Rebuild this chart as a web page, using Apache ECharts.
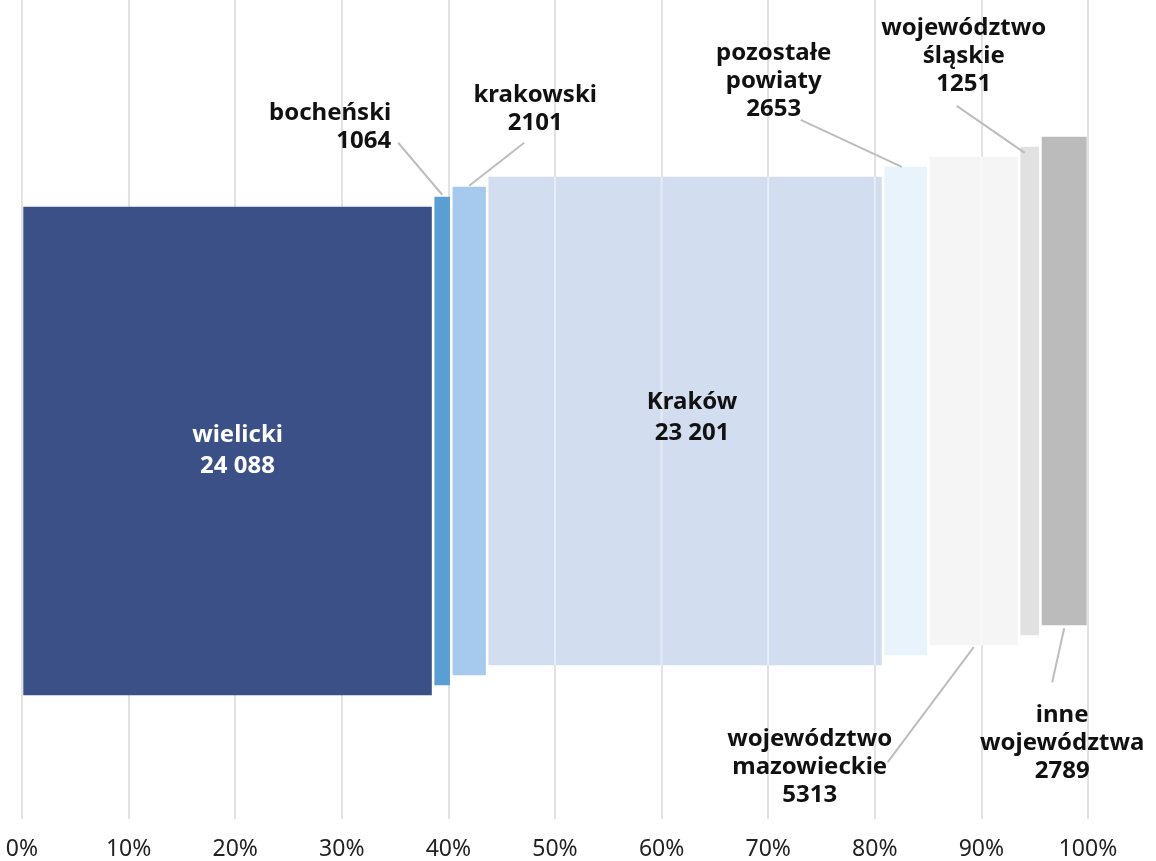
<!DOCTYPE html>
<html>
<head>
<meta charset="utf-8">
<script src="https://cdn.jsdelivr.net/npm/echarts@6/dist/echarts.min.js"></script>
<style>
  html, body { margin: 0; padding: 0; background: #ffffff; }
  #chart { width: 1156px; height: 861px; }
</style>
</head>
<body>
<div id="chart"></div>
<script>
// ---------------- DATA ----------------
const categories = ['wielicki', 'bocheński', 'krakowski', 'Kraków', 'pozostałe powiaty',
  'województwo mazowieckie', 'województwo śląskie', 'inne województwa'];
const labelNames = [['wielicki'], ['bocheński'], ['krakowski'], ['Kraków'], ['pozostałe', 'powiaty'],
  ['województwo', 'mazowieckie'], ['województwo', 'śląskie'], ['inne', 'województwa']];
const values = [24088, 1064, 2101, 23201, 2653, 5313, 1251, 2789];
const valueLabels = ['24 088', '1064', '2101', '23 201', '2653', '5313', '1251', '2789'];
const tickValues = [0, 10, 20, 30, 40, 50, 60, 70, 80, 90, 100];
const tickSuffix = '%';

// ---------------- STYLE / LAYOUT ----------------
const FONT = '"Noto Sans", "DejaVu Sans", sans-serif';
const barColors = ['#3b5087', '#5a9fd3', '#a6caee', '#d3ddf0', '#e8f3fc', '#f5f5f5', '#e1e1e1', '#bbbbbb'];
const gridShowThrough = [false, false, false, true, true, true, false, true];
const labelColors = ['#ffffff', '#111111', '#111111', '#111111', '#111111', '#111111', '#111111', '#111111'];
// y axis in pixel-like units (grid height 820)
const Y_LOW = 124, Y_HIGH = 613, Y_STEP = 10, GAP = 1.3;
// label placement relative to bar top-centre (anchor 'top') or bottom-centre (anchor 'bottom')
const labelLayout = [
  { anchor: 'inside', dx: 10, dy: 0 },
  { anchor: 'top', dx: -51, dy: -70, align: 'right', line: [-44, -54, 0, -2] },
  { anchor: 'top', dx: 66, dy: -78, align: 'center', line: [55, -44, 0, -1] },
  { anchor: 'inside', dx: 7, dy: -3 },
  { anchor: 'top', dx: -132, dy: -86, align: 'center', line: [-105, -47, -4, 0] },
  { anchor: 'bottom', dx: -164, dy: 122, align: 'center', line: [-86, 117, 0, 2] },
  { anchor: 'top', dx: -66, dy: -91, align: 'center', line: [-73, -41, -5, 6] },
  { anchor: 'bottom', dx: -2, dy: 118, align: 'center', line: [0, 3, -12, 57] }
];

// ---------------- BUILD ----------------
const total = values.reduce((a, b) => a + b, 0);
let cum = 0;
const seriesData = values.map((v, i) => {
  const start = cum / total * 100;
  cum += v;
  const end = cum / total * 100;
  return [start, end, i];
});

function renderItem(params, api) {
  const start = api.value(0), end = api.value(1), i = api.value(2);
  const x0 = api.coord([start, 0])[0] + GAP;
  const x1 = api.coord([end, 0])[0] - GAP;
  const yTop = api.coord([0, Y_HIGH + i * Y_STEP])[1];
  const yBot = api.coord([0, Y_LOW + i * Y_STEP])[1];
  const cx = (x0 + x1) / 2;
  const children = [];
  children.push({
    type: 'rect',
    shape: { x: x0, y: yTop, width: x1 - x0, height: yBot - yTop },
    style: { fill: barColors[i] }
  });
  if (gridShowThrough[i]) {
    tickValues.forEach(t => {
      const tx = api.coord([t, 0])[0];
      if (tx > x0 + 1 && tx < x1 - 1) {
        children.push({
          type: 'line',
          shape: { x1: tx, y1: yTop, x2: tx, y2: yBot },
          style: { stroke: '#ffffff', lineWidth: 2, opacity: 0.45 }
        });
      }
    });
  }
  const L = labelLayout[i];
  const text = labelNames[i].concat([valueLabels[i]]).join('\n');
  if (L.anchor === 'inside') {
    children.push({
      type: 'text',
      x: cx + L.dx, y: (yTop + yBot) / 2 + L.dy,
      style: {
        text: text, fill: labelColors[i], font: 'bold 24px ' + FONT,
        align: 'center', verticalAlign: 'middle', lineHeight: 31
      }
    });
  } else {
    const ay = L.anchor === 'top' ? yTop : yBot;
    children.push({
      type: 'line',
      shape: { x1: cx + L.line[0], y1: ay + L.line[1], x2: cx + L.line[2], y2: ay + L.line[3] },
      style: { stroke: '#bdbdbd', lineWidth: 2 }
    });
    children.push({
      type: 'text',
      x: cx + L.dx, y: ay + L.dy,
      style: {
        text: text, fill: labelColors[i], font: 'bold 24px ' + FONT,
        align: L.align, verticalAlign: 'middle', lineHeight: 28
      }
    });
  }
  return { type: 'group', children: children };
}

const chart = echarts.init(document.getElementById('chart'), null, { renderer: 'canvas' });
chart.setOption({
  animation: false,
  backgroundColor: '#ffffff',
  grid: { left: 22, right: 68, top: 0, bottom: 41, containLabel: false },
  xAxis: {
    type: 'value', min: 0, max: 100, interval: 10,
    axisLine: { show: false }, axisTick: { show: false },
    splitLine: { show: true, lineStyle: { color: '#e2e2e2', width: 2 } },
    axisLabel: {
      formatter: v => v + tickSuffix, fontFamily: FONT, fontSize: 23, color: '#222222', margin: 19
    }
  },
  yAxis: { type: 'value', min: 0, max: 820, show: false, splitLine: { show: false } },
  series: [{
    type: 'custom',
    renderItem: renderItem,
    data: seriesData,
    encode: { x: [0, 1], y: 2 },
    clip: false
  }]
});
</script>
</body>
</html>
